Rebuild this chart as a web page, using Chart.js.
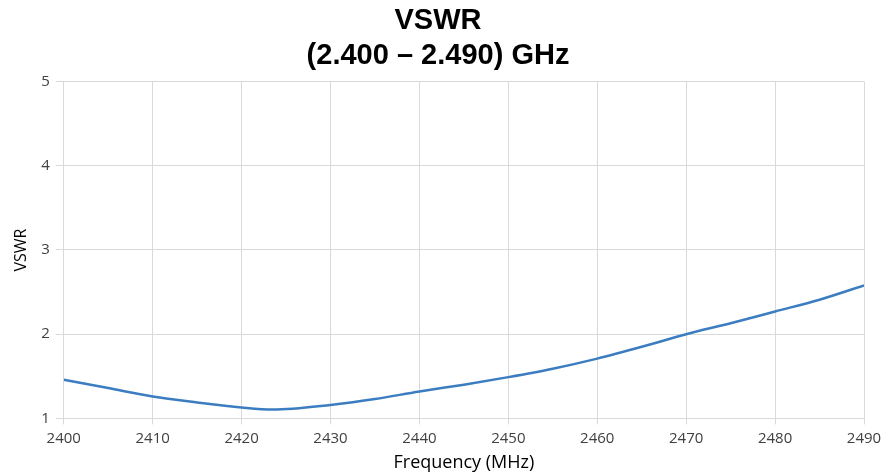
<!DOCTYPE html>
<html>
<head>
<meta charset="utf-8">
<script src="https://cdn.jsdelivr.net/npm/chart.js@4/dist/chart.umd.min.js"></script>
<style>
  html, body { margin: 0; padding: 0; background: #ffffff; }
  #wrap { width: 888px; height: 476px; position: relative; }
</style>
</head>
<body>
<div id="wrap"><canvas id="c" width="888" height="476"></canvas></div>
<script>
const titleLines = ["VSWR", "(2.400 \u2013 2.490) GHz"];
const xAxisTitle = "Frequency (MHz)";
const yAxisTitle = "VSWR";
const frequencies = [2400, 2405, 2410, 2415, 2420, 2423.5, 2430, 2435, 2440, 2445, 2450, 2455, 2460, 2465, 2470, 2475, 2480, 2485, 2490];
const vswrValues  = [1.46, 1.36, 1.26, 1.19, 1.13, 1.105, 1.16, 1.23, 1.32, 1.40, 1.49, 1.59, 1.71, 1.85, 2.00, 2.13, 2.27, 2.41, 2.58];
const xTicks = [2400, 2410, 2420, 2430, 2440, 2450, 2460, 2470, 2480, 2490];
const yTicks = [1, 2, 3, 4, 5];

const points = frequencies.map((f, i) => ({ x: f, y: vswrValues[i] }));

new Chart(document.getElementById('c'), {
  type: 'line',
  data: {
    datasets: [{
      label: 'VSWR',
      data: points,
      borderColor: '#3b7dc0',
      borderWidth: 2.5,
      pointRadius: 0,
      cubicInterpolationMode: 'monotone',
      fill: false
    }]
  },
  options: {
    responsive: false,
    animation: false,
    layout: { padding: { left: 12, right: 24, top: 4, bottom: 2 } },
    plugins: {
      legend: { display: false },
      tooltip: { enabled: false },
      title: {
        display: true,
        text: titleLines,
        color: '#000000',
        font: { family: 'Liberation Sans', size: 29, weight: 'bold', lineHeight: 1.2 },
        padding: { top: 0, bottom: 8 }
      }
    },
    scales: {
      x: {
        type: 'linear',
        min: 2400, max: 2490,
        afterBuildTicks: (s) => { s.ticks = xTicks.map(v => ({ value: v })); },
        ticks: { color: '#404040', font: { family: 'Open Sans', size: 15 }, padding: 5, maxRotation: 0, callback: (v) => String(v) },
        grid: { color: '#d9d9d9', lineWidth: 1, tickLength: 6, drawTicks: true },
        border: { color: '#d9d9d9' },
        title: { display: true, text: xAxisTitle, color: '#000000', font: { family: 'Open Sans', size: 18 }, padding: { top: 0, bottom: 0 } }
      },
      y: {
        type: 'linear',
        min: 1, max: 5,
        afterBuildTicks: (s) => { s.ticks = yTicks.map(v => ({ value: v })); },
        ticks: { color: '#404040', font: { family: 'Open Sans', size: 15 }, padding: 6 },
        grid: { color: '#d9d9d9', lineWidth: 1, tickLength: 8 },
        border: { color: '#d9d9d9' },
        title: { display: true, text: yAxisTitle, color: '#000000', font: { family: 'Open Sans', size: 16 }, padding: { top: 0, bottom: 4 } }
      }
    }
  }
});
</script>
</body>
</html>
